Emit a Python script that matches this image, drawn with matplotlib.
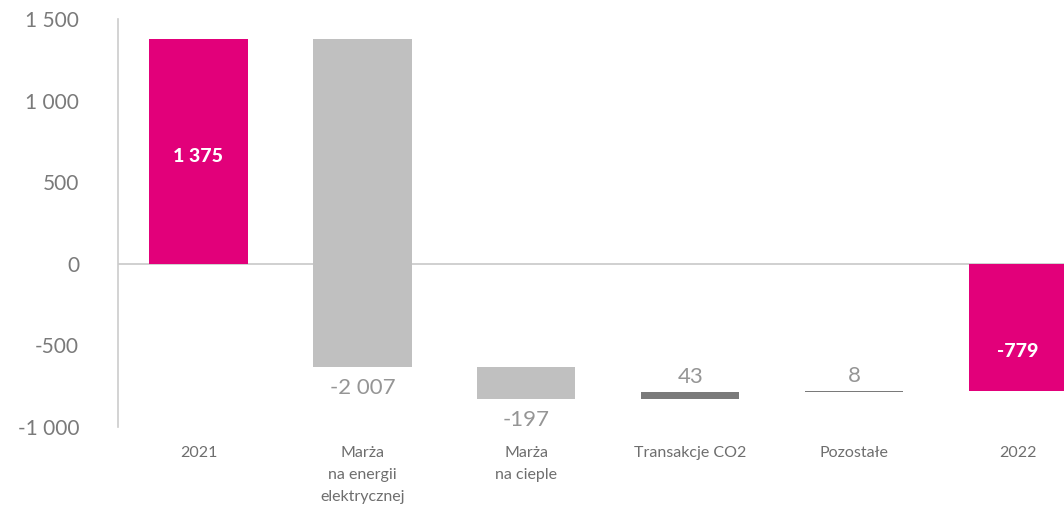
import numpy as np
import matplotlib.pyplot as plt

plt.rcParams['font.family'] = ['Lato', 'DejaVu Sans']

# Kategorie i zmiany (mln zł)
categories = ['2021', 'Marża\nna energii\nelektrycznej', 'Marża\nna cieple',
              'Transakcje CO2', 'Pozostałe', '2022']
changes = [1375, -2007, -197, 43, 8]
total_2022 = -779
value_labels = ['1 375', '-2 007', '-197', '43', '8', '-779']

MAGENTA = '#e2007a'
LIGHT = '#c0c0c0'
DARK = '#7a7a7a'
TEXT = '#959595'

fig = plt.figure(figsize=(10.64, 5.15), dpi=100)
ax = fig.add_axes([0.111, 0.171, 0.889, 0.792])

x = np.arange(len(categories))
width = 0.6

# Słupek początkowy
ax.bar(x[0], changes[0], width=width, color=MAGENTA)

# Słupki zmian (pływające)
running = changes[0]
for i, ch in enumerate(changes[1:], start=1):
    color = LIGHT if ch < 0 else DARK
    ax.bar(x[i], ch, bottom=running, width=width, color=color)
    top = max(running, running + ch)
    bottom = min(running, running + ch)
    if ch < 0:
        ax.text(x[i], bottom - 70, value_labels[i], ha='center', va='top',
                fontsize=16, color=TEXT)
    else:
        ax.text(x[i], top + 30, value_labels[i], ha='center', va='bottom',
                fontsize=16, color=TEXT)
    running += ch

# Słupek końcowy
ax.bar(x[-1], total_2022, width=width, color=MAGENTA)

ax.text(x[0], changes[0] * 0.5 - 30, value_labels[0], ha='center', va='center',
        fontsize=14, color='white', fontweight='black')
ax.text(x[-1], -540, value_labels[-1], ha='center', va='center',
        fontsize=14, color='white', fontweight='black')

ax.axhline(0, color='#c8c8c8', lw=1.2, zorder=0)

ax.set_xlim(-0.49, 5.28)
ax.set_ylim(-1000, 1500)
ax.set_yticks([-1000, -500, 0, 500, 1000, 1500])
ax.set_yticklabels(['-1 000', '-500', '0', '500', '1 000', '1 500'])
ax.set_xticks(x)
ax.set_xticklabels(categories, linespacing=1.7)

for s in ['top', 'right', 'bottom']:
    ax.spines[s].set_visible(False)
ax.spines['left'].set_color('#cccccc')
ax.spines['left'].set_linewidth(1.2)

ax.tick_params(axis='y', length=0, pad=28, labelsize=15, labelcolor='#7a7a7a')
ax.tick_params(axis='x', length=0, pad=14, labelsize=11.5, labelcolor='#6e6e6e')
for lbl in ax.get_xticklabels():
    lbl.set_verticalalignment('top')

fig.savefig('out.png', dpi=100)
